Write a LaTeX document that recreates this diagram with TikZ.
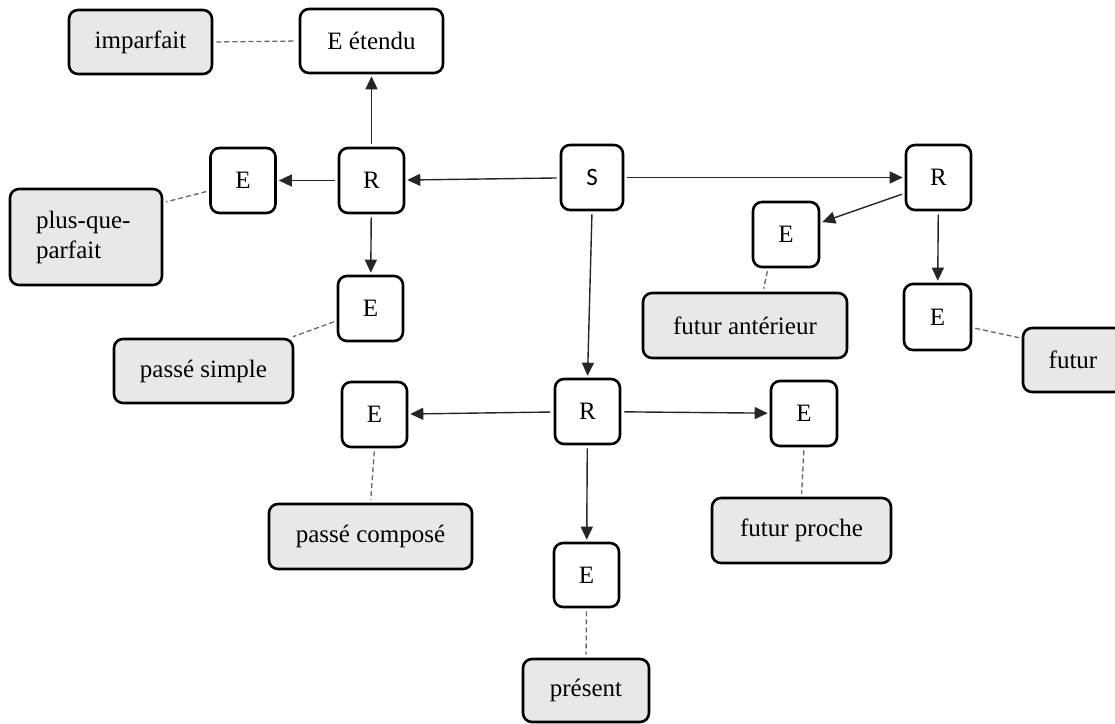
\documentclass[tikz,border=0pt]{standalone}
\usepackage{fontspec}
\setmainfont{Liberation Serif}
\newfontfamily\sfS{Carlito}
\usetikzlibrary{arrows.meta}
\begin{document}
\begin{tikzpicture}[x=1pt,y=-1pt,
  ebox/.style={draw=black, line width=2.6pt, rounded corners=9pt, fill=white,
    minimum width=65pt, minimum height=65pt, inner sep=0pt,
    font=\fontsize{25}{30}\selectfont},
  tbox/.style={ebox, fill=black!9},
  arr/.style={-{Triangle[length=13pt,width=12pt]}, line width=1.4pt, draw=black!85,
    shorten <=3pt, shorten >=2pt},
  dsh/.style={dash pattern=on 5pt off 3pt, line width=1.3pt, draw=black!60,
    shorten <=3pt, shorten >=3pt}
]
\clip (0,0) rectangle (1115,723);
\fill[white] (0,0) rectangle (1115,723);

% nodes
\node[tbox, minimum width=143pt, minimum height=64pt] (imp) at (140.5,42) {imparfait};
\node[ebox, minimum width=143pt, minimum height=64pt] (Eet) at (371.5,41) {E étendu};
\node[ebox] (Epqp) at (243,180.5) {E};
\node[ebox] (Rl) at (371.5,180.5) {R};
\node[tbox, minimum width=152pt, minimum height=96pt, text width=100pt, align=left, inner xsep=26pt] (pqp) at (86,237) {plus-que-\\parfait};
\node[ebox] (Ebl) at (370.5,308.5) {E};
\node[tbox, minimum width=179pt, minimum height=64pt] (ps) at (203.5,371) {passé simple};
\node[ebox, minimum width=62pt] (S) at (592,177.5) {\sfS S};
\node[ebox] (Rr) at (938.5,177.5) {R};
\node[ebox, minimum width=66pt] (Efa) at (786,234.5) {E};
\node[tbox, minimum width=204pt] (fa) at (745,325.5) {futur antérieur};
\node[ebox, minimum width=67pt, minimum height=66pt] (Ef) at (937.5,317) {E};
\node[tbox, minimum width=100pt, minimum height=64pt] (fut) at (1073,360) {futur};
\node[ebox] (Rm) at (587.5,411.5) {R};
\node[ebox] (Elm) at (374.5,414.5) {E};
\node[ebox, minimum width=66pt] (Erm) at (804,413.5) {E};
\node[tbox, minimum width=203pt] (pc) at (370.5,536.5) {passé composé};
\node[tbox, minimum width=179pt] (fp) at (801.5,530.5) {futur proche};
\node[ebox, minimum height=64pt] (Eb) at (586.5,575) {E};
\node[tbox, minimum width=126pt, minimum height=63pt] (pres) at (586,690.5) {présent};

% arrows
\draw[arr] (S) -- (Rl);
\draw[arr] (Rl) -- (Epqp);
\draw[arr] (Rl) -- (Eet);
\draw[arr] (Rl) -- (Ebl);
\draw[arr] (S) -- (Rr);
\draw[arr] (Rr.205) -- (Efa.19);
\draw[arr] (Rr) -- (Ef);
\draw[arr] (S.south) -- (Rm.north);
\draw[arr] (Rm) -- (Elm);
\draw[arr] (Rm) -- (Erm);
\draw[arr] (Rm) -- (Eb);

% dashed links
\draw[dsh] (imp.east) -- (Eet.west);
\draw[dsh] (Epqp.197) -- (pqp.24);
\draw[dsh] (Ebl.200) -- (ps.21);
\draw[dsh] (Efa.242) -- (fa.62);
\draw[dsh] (Ef.-17) -- (fut.157);
\draw[dsh] (Elm.south) -- (pc.north);
\draw[dsh] (Erm.south) -- (fp.north);
\draw[dsh] (Eb.south) -- (pres.north);
\end{tikzpicture}
\end{document}
